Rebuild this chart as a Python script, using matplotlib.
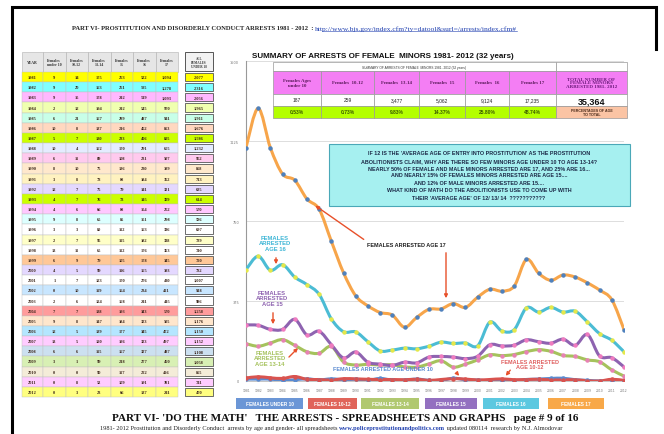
import numpy as np
import matplotlib
matplotlib.use('Agg')
import matplotlib.pyplot as plt
from matplotlib.patches import Rectangle, PathPatch
from matplotlib.path import Path

W, H = 664, 435
SERIF = 'Liberation Serif'
SANS = 'Liberation Sans'

years = list(range(1981, 2013))
under10 = [9, 9, 9, 2, 6, 10, 5, 10, 6, 8, 3, 12, 4, 4, 9, 3, 2, 13, 6, 4, 1, 0, 2, 7, 9, 12, 13, 6, 3, 0, 0, 0]
f10_12 = [14, 20, 15, 12, 21, 8, 7, 4, 11, 10, 8, 7, 7, 6, 8, 3, 7, 11, 9, 5, 7, 10, 6, 7, 8, 5, 5, 6, 1, 0, 8, 3]
f13_14 = [175, 163, 178, 194, 167, 137, 130, 162, 89, 75, 78, 75, 76, 66, 65, 80, 95, 65, 79, 99, 123, 119, 124, 138, 147, 139, 120, 115, 99, 90, 52, 23]
f15 = [263, 261, 242, 242, 289, 216, 233, 170, 108, 136, 88, 79, 73, 88, 85, 112, 115, 112, 105, 116, 170, 164, 168, 193, 184, 177, 196, 167, 218, 117, 109, 66]
f16 = [522, 585, 519, 545, 487, 452, 406, 291, 231, 230, 184, 141, 145, 154, 151, 163, 182, 176, 178, 165, 276, 234, 241, 343, 323, 345, 323, 327, 277, 222, 191, 137]
f17 = [1094, 1278, 1093, 970, 941, 853, 805, 655, 507, 399, 352, 321, 309, 252, 298, 336, 338, 363, 345, 393, 430, 421, 445, 570, 505, 472, 497, 487, 460, 426, 381, 241]
totals = [2077, 2316, 2056, 1965, 1911, 1676, 1586, 1232, 952, 858, 713, 635, 614, 570, 596, 697, 739, 740, 720, 782, 1007, 948, 986, 1258, 1176, 1150, 1152, 1108, 1058, 855, 741, 470]
row_colors = ['#ffff00', '#80ffff', '#ffb8ff', '#f0ffb0', '#c8ffe8', '#ffd8c0', '#ccff00', '#e4ecff',
              '#ffcaee', '#ffe8cc', '#fff2c0', '#e4d8ff', '#ccff00', '#ffc8ff', '#ddffff', '#ffffff',
              '#ffffc8', '#ffffff', '#ffc898', '#e4d8ff', '#ffffff', '#c8e6ff', '#ffffff', '#ff9c9c',
              '#ffe6cc', '#b4e6ff', '#ffccff', '#cce0f0', '#d8f0b4', '#f4ecd8', '#ffccff', '#ffff80']
col_heads = ['YEAR', 'Females\nunder 10', 'Females\n10-12', 'Females\n13-14', 'Females\n15', 'Females\n16', 'Females\n17']

sum_heads = ['Females Ages\nunder 10', 'Females  10-12', 'Females  13-14', 'Females  15', 'Females  16', 'Females 17']
sum_counts = ['187', '259', '3,477', '5,062', '9,124', '17,235']
sum_pcts = ['0.53%', '0.73%', '9.83%', '14.37%', '25.80%', '48.74%']
sum_total = '35,364'

series = [('FEMALES UNDER 10', under10, '#5b8bd0', '#5b8bd0', '#6b96d6'),
          ('FEMALES 10-12', f10_12, '#d9534f', '#d9534f', '#e0645a'),
          ('FEMALES 13-14', f13_14, '#a5c25c', '#e882b4', '#b0c870'),
          ('FEMALES 15', f15, '#8e63b0', '#f07cc0', '#9370c0'),
          ('FEMALES 16', f16, '#4bbcd4', '#e5e84a', '#5cc8e0'),
          ('FEMALES 17', f17, '#f7a54a', '#4f81bd', '#f8a848')]

box_lines = ["IF 12 IS THE 'AVERAGE AGE OF ENTRY INTO PROSTITUTION' AS THE PROSTITUTION",
             "ABOLITIONISTS CLAIM, WHY ARE THERE SO FEW MINORS AGE UNDER 10 TO AGE 13-14?",
             "NEARLY 50% OF FEMALE AND MALE MINORS ARRESTED ARE 17, AND 25% ARE 16...",
             "AND NEARLY 15% OF FEMALES MINORS ARRESTED ARE AGE 15....",
             "AND 12% OF MALE MINORS ARRESTED ARE 15....",
             "WHAT KIND OF MATH DO THE ABOLITIONISTS USE TO COME UP WITH",
             "THEIR 'AVERAGE AGE' OF 12/ 13/ 14  ???????????"]


def rect(x0, y0, x1, y1):
    return [x0 / W, 1 - y1 / H, (x1 - x0) / W, (y1 - y0) / H]


def smooth_path(xs, ys):
    # Excel-style smoothed line: Catmull-Rom through the data points as cubic Beziers
    p = np.column_stack([xs, ys]).astype(float)
    ext = np.vstack([p[0], p, p[-1]])
    verts = [p[0]]
    codes = [Path.MOVETO]
    for i in range(len(p) - 1):
        p0, p1, p2, p3 = ext[i], ext[i + 1], ext[i + 2], ext[i + 3]
        verts += [p1 + (p2 - p0) / 6, p2 - (p3 - p1) / 6, p2]
        codes += [Path.CURVE4] * 3
    return Path(verts, codes)


fig = plt.figure(figsize=(6.64, 4.35), dpi=100)

# ---- line chart ----
ax = fig.add_axes(rect(246, 62, 624, 382))
ax.set_facecolor('none')
for name, vals, lc, mc, _ in series:
    ax.add_patch(PathPatch(smooth_path(years, vals), fill=False, ec=lc, lw=2.2,
                           capstyle='round', joinstyle='round', zorder=3))
    ax.plot(years, vals, ls='none', marker='o', ms=2.2, mfc=mc, mec=mc, zorder=4)
ax.set_xlim(1981, 2012)
ax.set_ylim(0, 1500)
ax.set_yticks([0, 375, 750, 1125, 1500])
ax.set_yticklabels(['0', '375', '750', '1125', '1500'], fontsize=2.5, color='#777777')
ax.set_xticks(years)
ax.set_xticklabels([str(y) for y in years], fontsize=2.2, color='#777777')
ax.tick_params(length=0, pad=5)
ax.grid(axis='y', color='#d8d8d8', lw=0.6)
ax.set_axisbelow(True)
for s in ['top', 'right']:
    ax.spines[s].set_visible(False)
ax.spines['left'].set_color('#999999')
ax.spines['bottom'].set_color('#bbbbbb')
ax.spines['left'].set_linewidth(0.8)
ax.spines['bottom'].set_linewidth(0.6)

# ---- page overlay in pixel coordinates ----
pg = fig.add_axes([0, 0, 1, 1])
pg.set_xlim(0, W)
pg.set_ylim(H, 0)
pg.axis('off')
pg.set_facecolor('none')
renderer = fig.canvas.get_renderer()


def chain(x, y, parts, **kw):
    # write text pieces one after another on a line
    for s, extra in parts:
        t = pg.text(x, y, s, ha='left', va='center', **kw, **extra)
        bb = t.get_window_extent(renderer).transformed(pg.transData.inverted())
        x = max(bb.x0, bb.x1)
    return x


# page frame
pg.plot([12, 12, 656, 656], [H, 8, 8, 50], color='black', lw=2.2, solid_joinstyle='miter')

x_end = chain(72, 29, [('PART VI- PROSTITUTION AND DISORDERLY CONDUCT ARRESTS 1981 - 2012  : ',
                        dict(fontweight='bold', color='#222222', fontsize=4.7)),
                       ('http://www.bjs.gov/index.cfm?ty=datool&surl=/arrests/index.cfm#',
                        dict(color='#2040b0', fontsize=5.4))], family=SERIF)
pg.plot([322, x_end], [31.8, 31.8], color='#2040b0', lw=0.4)

# left spreadsheet
tx0, ty0, ty1 = 22, 53, 73
col_w = [21] + [22.5] * 6
col_x = np.concatenate([[tx0], tx0 + np.cumsum(col_w)])
row_h = (398 - ty1) / len(years)
for j, head in enumerate(col_heads):
    pg.add_patch(Rectangle((col_x[j], ty0), col_w[j], ty1 - ty0, fc='#e6e6e6', ec='#b0b0b0', lw=0.4))
    pg.text(col_x[j] + col_w[j] / 2, (ty0 + ty1) / 2, head, fontsize=2.8, family=SERIF,
            fontweight='bold', ha='center', va='center', color='#333333', linespacing=1.1)
for i, yr in enumerate(years):
    y = ty1 + i * row_h
    cells = [yr, under10[i], f10_12[i], f13_14[i], f15[i], f16[i], f17[i]]
    for j, v in enumerate(cells):
        pg.add_patch(Rectangle((col_x[j], y), col_w[j], row_h, fc=row_colors[i], ec='#c0c0c0', lw=0.3))
        txt = str(v) if j == 0 else f'{v:,}'
        pg.text(col_x[j] + col_w[j] / 2, y + row_h / 2, txt, fontsize=3.2, family=SERIF,
                fontweight='bold', ha='center', va='center', color='#3a2418')
    pg.add_patch(Rectangle((185, y + 1), 28, row_h - 2, fc=row_colors[i], ec='#555555', lw=0.6))
    pg.text(199, y + row_h / 2, f'{totals[i]:,}', fontsize=3.2, family=SERIF, fontweight='bold',
            ha='center', va='center', color='#3a2418')
pg.add_patch(Rectangle((185, ty0), 28, ty1 - ty0 - 1, fc='#f2f2f2', ec='#555555', lw=0.7))
pg.text(199, (ty0 + ty1) / 2, 'ALL\nFEMALES\nUNDER 18', fontsize=2.3, family=SERIF,
        fontweight='bold', ha='center', va='center', color='#333333', linespacing=1.1)

# chart title
pg.text(252, 56, 'SUMMARY OF ARRESTS OF FEMALE  MINORS 1981- 2012 (32 years)', fontsize=5.8,
        family=SANS, fontweight='bold', ha='left', va='center', color='#111111')

# summary table inside the chart
sx = [273, 321, 374, 419, 465, 509, 556, 627]
sy = [63, 72, 95, 107, 119]
pg.add_patch(Rectangle((sx[0], sy[0]), sx[6] - sx[0], sy[1] - sy[0], fc='white', ec='#999999', lw=0.5))
pg.text((sx[0] + sx[6]) / 2, (sy[0] + sy[1]) / 2, 'SUMMARY OF ARRESTS OF FEMALE  MINORS 1981- 2012 (32 years)',
        fontsize=2.3, family=SANS, ha='center', va='center', color='#333333')
for j in range(6):
    w = sx[j + 1] - sx[j]
    pg.add_patch(Rectangle((sx[j], sy[1]), w, sy[2] - sy[1], fc='#f47ef4', ec='#999999', lw=0.5))
    pg.add_patch(Rectangle((sx[j], sy[2]), w, sy[3] - sy[2], fc='white', ec='#999999', lw=0.5))
    pg.add_patch(Rectangle((sx[j], sy[3]), w, sy[4] - sy[3], fc='#b4ff00', ec='#999999', lw=0.5))
    cx = (sx[j] + sx[j + 1]) / 2
    pg.text(cx, (sy[1] + sy[2]) / 2, sum_heads[j], fontsize=3.5, family=SERIF, fontweight='bold',
            ha='center', va='center', color='#5a1a5a', linespacing=1.1)
    pg.text(cx, (sy[2] + sy[3]) / 2, sum_counts[j], fontsize=3.5, family=SANS,
            ha='center', va='center', color='#222222')
    pg.text(cx, (sy[3] + sy[4]) / 2, sum_pcts[j], fontsize=3.6, family=SANS, fontweight='bold',
            ha='center', va='center', color='#3a5a00')
tw = sx[7] - sx[6]
pg.add_patch(Rectangle((sx[6], sy[0]), tw, sy[1] - sy[0], fc='white', ec='#999999', lw=0.5))
pg.add_patch(Rectangle((sx[6], sy[1]), tw, sy[2] - sy[1], fc='#f47ef4', ec='#999999', lw=0.5))
pg.add_patch(Rectangle((sx[6], sy[2]), tw, sy[3] - sy[2], fc='white', ec='#999999', lw=0.5))
pg.add_patch(Rectangle((sx[6], sy[3]), tw, sy[4] - sy[3], fc='#fbc4a4', ec='#999999', lw=0.5))
pg.text((sx[6] + sx[7]) / 2, (sy[1] + sy[2]) / 2, 'TOTAL NUMBER OF\nFEMALE MINORS\nARRESTED 1981- 2012',
        fontsize=3.6, family=SERIF, fontweight='bold', ha='center', va='center', color='#6a1a7a',
        linespacing=0.95)
pg.text((sx[6] + sx[7]) / 2, (sy[2] + sy[3]) / 2 + 0.5, sum_total, fontsize=6.5, family=SANS,
        fontweight='bold', ha='center', va='center', color='#111111')
pg.text((sx[6] + sx[7]) / 2, (sy[3] + sy[4]) / 2, 'PERCENTAGES OF AGE\nTO TOTAL', fontsize=2.6,
        family=SANS, fontweight='bold', ha='center', va='center', color='#4a2a1a', linespacing=1.0)

# cyan question box
pg.add_patch(Rectangle((329, 145), 301, 62, fc='#a6f0f0', ec='#4aa8b8', lw=0.8))
pg.text(479, 176, '\n'.join(box_lines), fontsize=3.85, family=SANS, fontweight='bold',
        ha='center', va='center', color='#1c2a48', linespacing=1.6)

# annotations
red = '#e8502a'
akw = dict(arrowstyle='-|>', color=red, lw=1.0, mutation_scale=5)
pg.text(367, 246, 'FEMALES ARRESTED AGE 17', fontsize=4.0, family=SANS, fontweight='bold',
        ha='left', va='center', color='#222222')
pg.annotate('', xy=(313, 205), xytext=(366, 242), arrowprops=akw)
pg.annotate('', xy=(446, 302), xytext=(446, 251), arrowprops=akw)
pg.text(275, 244, 'FEMALES\nARRESTED\nAGE 16', fontsize=4.2, family=SANS, fontweight='bold',
        ha='center', va='center', color='#3fb6d6', linespacing=1.15)
pg.annotate('', xy=(276, 268), xytext=(276, 256), arrowprops=akw)
pg.text(272, 299, 'FEMALES\nARRESTED\nAGE 15', fontsize=4.2, family=SANS, fontweight='bold',
        ha='center', va='center', color='#8e63b0', linespacing=1.15)
pg.annotate('', xy=(273, 328), xytext=(273, 311), arrowprops=akw)
pg.text(270, 359, 'FEMALES\nARRESTED\nAGE 13-14', fontsize=4.2, family=SANS, fontweight='bold',
        ha='center', va='center', color='#a5c25c', linespacing=1.15)
pg.annotate('', xy=(300, 347), xytext=(287, 360), arrowprops=akw)
pg.text(333, 370, 'FEMALES ARRESTED AGE UNDER 10', fontsize=4.0, family=SANS, fontweight='bold',
        ha='left', va='center', color='#5b8bd0')
pg.annotate('', xy=(461, 379), xytext=(455, 372), arrowprops=akw)
pg.text(530, 365, 'FEMALES ARRESTED\nAGE 10-12', fontsize=4.0, family=SANS, fontweight='bold',
        ha='center', va='center', color='#e06060', linespacing=0.95)
pg.annotate('', xy=(504, 379), xytext=(512, 369), arrowprops=akw)

# legend bar
leg_x = [(236, 303), (308, 357), (361, 419), (425, 477), (483, 539), (548, 604)]
for (x0, x1), (name, _, _, _, bc) in zip(leg_x, series):
    pg.add_patch(Rectangle((x0, 399), x1 - x0, 11, fc=bc, ec='none'))
    pg.text((x0 + x1) / 2, 404.5, name, fontsize=3.4, family=SANS, ha='center', va='center',
            color='white', fontweight='bold')

# footer
pg.text(345, 419, "PART VI- 'DO THE MATH'   THE ARRESTS - SPREADSHEETS AND GRAPHS   page # 9 of 16",
        fontsize=8.0, family=SERIF, fontweight='bold', ha='center', va='center', color='#111111')
chain(100, 429, [('1981- 2012 Prostitution and Disorderly Conduct  arrests by age and gender- all spreadsheets ',
                  dict(color='#222222')),
                 ('www.policeprostitutionandpolitics.com', dict(color='#2040b0', fontweight='bold')),
                 (' updated 080114  research by N.J. Almodovar', dict(color='#222222'))],
      family=SERIF, fontsize=4.6)

fig.savefig('out.png', dpi=100)
